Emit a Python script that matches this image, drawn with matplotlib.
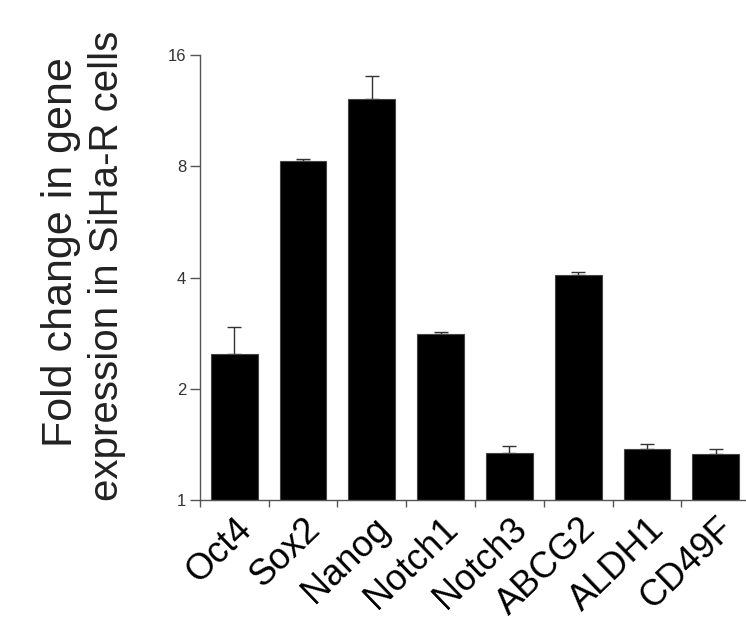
import numpy as np
import matplotlib
matplotlib.use("Agg")
import matplotlib.pyplot as plt
from matplotlib.ticker import FixedLocator, NullFormatter

# ----------------------------------------------------------------------------------------------------------------------
# Data
genes = ["Oct4", "Sox2", "Nanog", "Notch1", "Notch3", "ABCG2", "ALDH1", "CD49F"]
fold_change = [2.48, 8.27, 12.16, 2.81, 1.34, 4.06, 1.37, 1.33]
err_upper = [0.46, 0.10, 1.88, 0.04, 0.06, 0.08, 0.05, 0.04]
y_ticks = [1, 2, 4, 8, 16]
y_label_lines = ["Fold change in gene", "expression in SiHa-R cells"]

# ----------------------------------------------------------------------------------------------------------------------
plt.rcParams["font.family"] = ["Liberation Sans", "DejaVu Sans"]

fig = plt.figure(figsize=(7.46, 6.25), dpi=100)
ax = fig.add_axes([0.268, 0.2, 0.732, 0.712])

x = np.arange(len(genes))
ax.bar(x, fold_change, width=0.68, color="black", edgecolor="#444444", linewidth=0.8,
       bottom=0, zorder=2)
ax.errorbar(x, fold_change, yerr=[np.zeros(len(genes)), err_upper], fmt="none",
            ecolor="#333333", elinewidth=1.0, capsize=5, capthick=1.0, zorder=1)

# Log2 scale y axis
ax.set_yscale("log", base=2)
ax.set_ylim(1, 16)
ax.yaxis.set_major_locator(FixedLocator(y_ticks))
ax.set_yticklabels([str(t) for t in y_ticks])
ax.yaxis.set_minor_formatter(NullFormatter())
ax.yaxis.set_minor_locator(FixedLocator([]))

# X axis: labels at bar centres, ticks at category boundaries
ax.set_xlim(-0.5, 7.44)
ax.set_xticks(x)
ax.set_xticklabels(genes, rotation=44, ha="right", rotation_mode="anchor", fontsize=26)
ax.xaxis.set_minor_locator(FixedLocator(np.arange(-0.5, len(genes), 1.0)))
ax.tick_params(axis="x", which="major", length=0, pad=8)
ax.tick_params(axis="x", which="minor", length=5, color="#555555", width=1)
ax.tick_params(axis="y", which="major", length=7, color="#555555", width=1,
               labelsize=12, labelcolor="#333333", pad=3)

for side in ["top", "right"]:
    ax.spines[side].set_visible(False)
for side in ["left", "bottom"]:
    ax.spines[side].set_color("#555555")
    ax.spines[side].set_linewidth(1.0)

# Two-line y label, placed as separate lines
fig.text(61 / 746, 1 - 252 / 625, y_label_lines[0], rotation=90,
         ha="center", va="center", fontsize=31, color="#222222")
fig.text(107 / 746, 1 - 266 / 625, y_label_lines[1], rotation=90,
         ha="center", va="center", fontsize=29, color="#222222")

fig.savefig("out.png", dpi=100)
